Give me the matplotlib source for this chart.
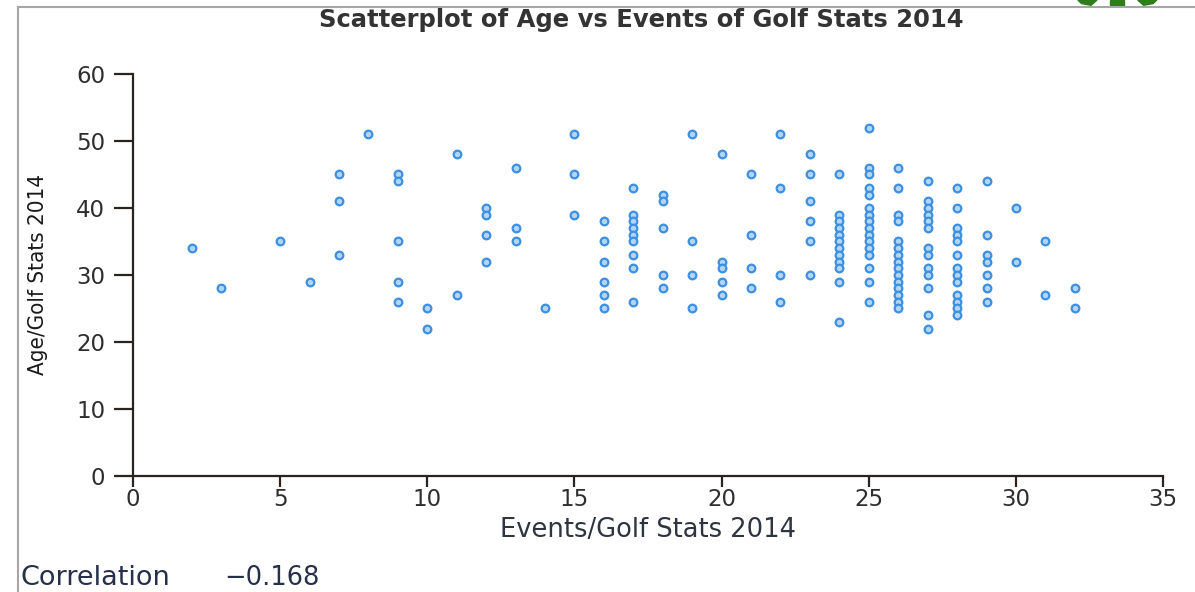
import matplotlib
matplotlib.use("Agg")
import matplotlib.pyplot as plt
from matplotlib.lines import Line2D
from matplotlib.patches import Polygon

# Golf Stats 2014: events played and age of each player
events = (
    [2, 3, 5, 6]
    + [7] * 3 + [8] + [9] * 5 + [10] * 2 + [11] * 2 + [12] * 4 + [13] * 3
    + [14] + [15] * 3 + [16] * 6 + [17] * 9 + [18] * 5 + [19] * 4
    + [20] * 5 + [21] * 4 + [22] * 4 + [23] * 6 + [24] * 12 + [25] * 16
    + [26] * 15 + [27] * 13 + [28] * 13 + [29] * 7 + [30] * 2 + [31] * 2
    + [32] * 2
)
ages = [
    34, 28, 35, 29,
    45, 41, 33,
    51,
    45, 44, 35, 29, 26,
    25, 22,
    48, 27,
    40, 39, 36, 32,
    46, 37, 35,
    25,
    51, 45, 39,
    38, 35, 32, 29, 27, 25,
    43, 39, 38, 37, 36, 35, 33, 31, 26,
    42, 41, 37, 30, 28,
    51, 35, 30, 25,
    48, 32, 31, 29, 27,
    45, 36, 31, 28,
    51, 43, 30, 26,
    48, 45, 41, 38, 35, 30,
    45, 39, 38, 37, 36, 35, 34, 33, 32, 31, 29, 23,
    52, 46, 45, 43, 42, 40, 39, 38, 37, 36, 35, 34, 33, 31, 29, 26,
    46, 43, 39, 38, 35, 34, 33, 32, 31, 30, 29, 28, 27, 26, 25,
    44, 41, 40, 39, 38, 37, 34, 33, 31, 30, 28, 24, 22,
    43, 40, 37, 36, 35, 33, 31, 30, 29, 27, 26, 25, 24,
    44, 36, 33, 32, 30, 28, 26,
    40, 32,
    35, 27,
    28, 25,
]
x_ticks = [0, 5, 10, 15, 20, 25, 30, 35]
y_ticks = [0, 10, 20, 30, 40, 50, 60]
correlation = "\u22120.168"

axis_color = "#2b241e"
text_color = "#2e2e2e"

fig = plt.figure(figsize=(11.95, 5.92), dpi=100)
ax = fig.add_axes([0.1113, 0.196, 0.862, 0.679])

ax.plot(events, ages, linestyle="none", marker="o", markersize=5.5,
        markerfacecolor="#b3d6f7", markeredgecolor="#3d8fe0",
        markeredgewidth=1.6)

ax.set_xlim(0, 35)
ax.set_ylim(0, 60)
ax.set_xticks(x_ticks)
ax.set_yticks(y_ticks)
ax.tick_params(direction="out", width=1.6, color=axis_color,
               labelsize=16.5, labelcolor=text_color)
ax.tick_params(axis="x", length=8, pad=1)
ax.tick_params(axis="y", length=14, pad=6)
for side in ["top", "right"]:
    ax.spines[side].set_visible(False)
for side in ["left", "bottom"]:
    ax.spines[side].set_color(axis_color)
    ax.spines[side].set_linewidth(1.6)

ax.set_xlabel("Events/Golf Stats 2014", fontsize=18.5, color="#2e3440",
              labelpad=4)
ax.set_ylabel("Age/Golf Stats 2014", fontsize=16, color="#1a1a1a",
              fontstretch="condensed", labelpad=20)

fig.text(0.537, 0.967, "Scatterplot of Age vs Events of Golf Stats 2014",
         ha="center", va="center", fontsize=17.5, fontweight="bold",
         color="#333333")

fig.text(0.017, 0.023, "Correlation", ha="left", va="center",
         fontsize=19.5, color="#27304a")
fig.text(0.188, 0.023, correlation, ha="left", va="center",
         fontsize=18.5, color="#27304a")

# page frame lines
fig.add_artist(Line2D([0.015, 0.015], [0.0, 0.988], color="#a6a6a6",
                      linewidth=1.5, transform=fig.transFigure))
fig.add_artist(Line2D([0.015, 1.0], [0.988, 0.988], color="#a6a6a6",
                      linewidth=1.5, transform=fig.transFigure))

# green logo peeking above the frame
green = "#2e7d1a"
for pts in [
    [(0.902, 1.0), (0.918, 1.0), (0.913, 0.991), (0.905, 0.994)],
    [(0.929, 1.0), (0.941, 1.0), (0.941, 0.991), (0.929, 0.991)],
    [(0.952, 1.0), (0.968, 1.0), (0.965, 0.994), (0.957, 0.991)],
]:
    fig.add_artist(Polygon(pts, closed=True, color=green,
                           transform=fig.transFigure))

fig.savefig("out.png", dpi=100)
